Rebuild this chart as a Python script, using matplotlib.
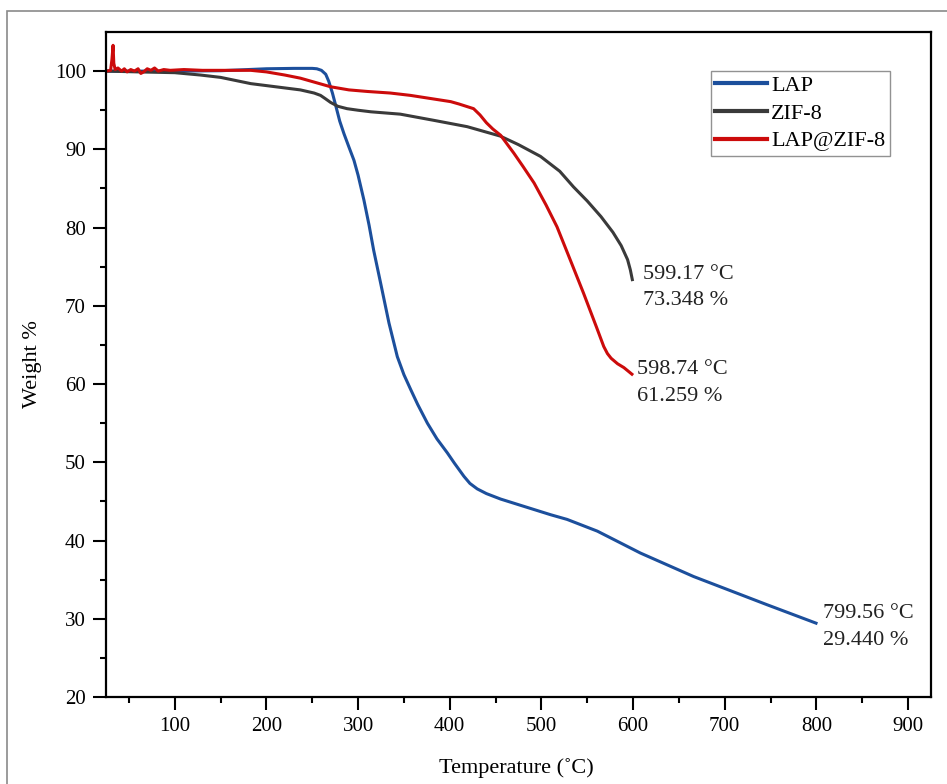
import numpy as np
import matplotlib
matplotlib.use("Agg")
import matplotlib.pyplot as plt
from matplotlib.patches import Rectangle

# TGA curves, values
lap_t = [26, 60, 100, 150, 200, 230, 250, 255, 260, 264.7, 268, 272, 275.6,
         280, 284.6, 290, 295.5, 300, 306.4, 312, 317, 324.6, 333.7, 342.8,
         350, 357.4, 365, 375.6, 386, 397.4, 405, 415.5, 422, 430, 440,
         455.5, 480, 510, 528, 561, 608, 666, 746, 799.56]
lap_w = [100.0, 100.0, 100.0, 100.05, 100.3, 100.35, 100.35, 100.3, 100.1,
         99.6, 98.7, 97.2, 95.6, 93.6, 92.0, 90.3, 88.6, 86.7, 83.5, 80.3,
         77.1, 72.9, 67.8, 63.5, 61.2, 59.3, 57.4, 55.0, 53.0, 51.2, 49.9,
         48.2, 47.3, 46.6, 46.0, 45.3, 44.4, 43.3, 42.7, 41.2, 38.4, 35.4,
         31.8, 29.44]

zif_t = [26, 60, 100, 128, 150, 183, 210, 237, 252, 259, 264, 270, 278, 288,
         300, 314, 346, 383, 419, 455, 475, 499, 520, 535, 550, 565, 578, 587,
         594, 597, 599.17]
zif_w = [100.0, 99.9, 99.8, 99.5, 99.2, 98.4, 98.0, 97.6, 97.2, 96.9, 96.5,
         96.0, 95.5, 95.2, 95.0, 94.8, 94.5, 93.7, 92.9, 91.7, 90.6, 89.1,
         87.2, 85.2, 83.4, 81.4, 79.4, 77.7, 75.9, 74.6, 73.35]

lapzif_t = [26, 30, 31.5, 32.7, 33.5, 35, 38, 42, 45, 48, 52, 56, 60, 63, 66,
            70, 74, 78, 82, 88, 95, 110, 130, 150, 183, 200, 220, 237, 255,
            270, 290, 310, 335, 357, 390, 401, 410, 418, 426, 433, 440, 447,
            455.5, 470, 480, 492, 505, 517, 530, 546, 560, 568, 572, 576, 583,
            590, 598.74]
lapzif_w = [100.0, 100.1, 101.5, 103.3, 101.0, 100.2, 100.4, 100.0, 100.3,
            99.9, 100.2, 100.0, 100.3, 99.7, 99.9, 100.3, 100.1, 100.4, 100.0,
            100.2, 100.1, 100.2, 100.1, 100.1, 100.1, 99.9, 99.5, 99.1, 98.5,
            98.0, 97.6, 97.4, 97.2, 96.9, 96.3, 96.1, 95.8, 95.5, 95.2, 94.4,
            93.4, 92.6, 91.8, 89.5, 87.8, 85.7, 82.9, 80.1, 76.3, 71.6, 67.3,
            64.8, 63.9, 63.3, 62.6, 62.1, 61.26]

labels = ["LAP", "ZIF-8", "LAP@ZIF-8"]
colors = ["#1c4f9c", "#3a3a3a", "#cc0b0b"]
end_notes = ["799.56 \u00b0C\n29.440 %", "599.17 \u00b0C\n73.348 %",
             "598.74 \u00b0C\n61.259 %"]
note_pos = [(807.4, 28.95), (610.4, 72.35), (604.6, 60.1)]

plt.rcParams['font.family'] = ['Liberation Serif', 'DejaVu Serif']

fig = plt.figure(figsize=(9.47, 7.84), dpi=100)
fig.patches.append(Rectangle((7 / 947, -0.1), 1.2, 1 - 11 / 784 + 0.1,
                             transform=fig.transFigure, fill=False,
                             edgecolor="#8a8a8a", linewidth=1.2))

ax = fig.add_axes([106 / 947, 1 - 697 / 784, 825 / 947, 665 / 784])

series = [(lap_t, lap_w), (zif_t, zif_w), (lapzif_t, lapzif_w)]
for (t, w), lab, c in zip(series, labels, colors):
    ax.plot(t, w, color=c, lw=2.2, label=lab, solid_joinstyle="round")

# end point notes
for note, (x, y) in zip(end_notes, note_pos):
    ax.text(x, y, note, fontsize=16, va="center", ha="left",
            color="#222222", linespacing=1.55)

ax.set_xlim(25, 925)
ax.set_ylim(20, 105)
ax.set_xticks(np.arange(100, 901, 100))
ax.set_xticks(np.arange(50, 901, 100), minor=True)
ax.set_yticks(np.arange(20, 101, 10))
ax.set_yticks(np.arange(25, 101, 10), minor=True)
ax.tick_params(which="major", direction="out", length=9.5, width=1.5,
               labelsize=15, pad=5)
ax.tick_params(which="minor", direction="out", length=4.5, width=1.5)
for s in ax.spines.values():
    s.set_linewidth(1.6)

ax.set_xlabel("Temperature (\u02daC)", fontsize=16)
ax.set_ylabel("Weight %", fontsize=16)
ax.xaxis.set_label_coords((516.7 - 106) / 825, (697 - 768) / 665)
ax.yaxis.set_label_coords((32 - 106) / 825, 0.5)
ax.xaxis.label.set_va("center")
ax.yaxis.label.set_va("center")

leg = ax.legend(loc="upper left", bbox_to_anchor=((711 - 106) / 825,
                                                  (697 - 71) / 665),
                fontsize=16, frameon=True, fancybox=False, handlelength=2.3,
                handletextpad=0.2, borderpad=0.2, labelspacing=0.32,
                borderaxespad=0)
leg.get_frame().set_edgecolor("#777777")
leg.get_frame().set_linewidth(1.0)
for h in leg.get_lines():
    h.set_linewidth(3)

fig.savefig("out.png", dpi=100)
